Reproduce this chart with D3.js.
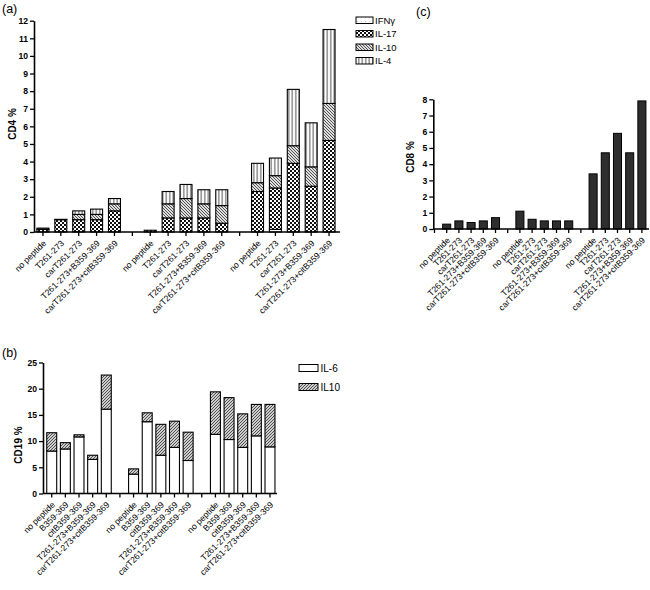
<!DOCTYPE html>
<html><head><meta charset="utf-8">
<script src="https://cdn.jsdelivr.net/npm/d3@7"></script>
<style>
body{margin:0;background:#fff;}
text{font-family:"Liberation Sans",Arial,Helvetica,sans-serif;}
</style></head>
<body>
<svg id="chart" width="650" height="590"></svg>
<script>
// ---------- DATA ----------
const catsA = ["no peptide","T261-273","carT261-273","T261-273+B359-369","carT261-273+citB359-369"];
const catsB = ["no peptide","B359-369","citB359-369","T261-273+B359-369","carT261-273+citB359-369"];
const catsC = catsA;

// panel (a) CD4 %, stacked bottom->top: IFNγ, IL-17, IL-10, IL-4
const aIFNg = [0,0,0,0,0, 0,0,0,0,0, 0,0.15,0,0,0];
const aIL17 = [0.15,0.7,0.7,0.7,1.2, 0.1,0.8,0.8,0.8,0.5, 2.3,2.35,3.9,2.6,5.2];
const aIL10 = [0.07,0.02,0.3,0.3,0.4, 0,0.8,1.1,0.8,1.0, 0.5,0.7,1.0,1.1,2.1];
const aIL4  = [0,0,0.2,0.3,0.3, 0,0.7,0.8,0.8,0.9, 1.1,1.0,3.2,2.5,4.2];
const aSeries = ["IFNγ","IL-17","IL-10","IL-4"];
const aTicks = [0,1,2,3,4,5,6,7,8,9,10,11,12];

// panel (b) CD19 %, stacked bottom->top: IL-6, IL10
const bIL6  = [8.1,8.5,10.8,6.5,16.1, 3.7,13.7,7.3,8.8,6.3, 11.3,10.3,8.8,11.0,8.9];
const bIL10 = [3.5,1.2,0.4,0.8,6.5, 1.0,1.7,5.9,5.0,5.4, 8.1,8.0,6.4,6.0,8.1];
const bSeries = ["IL-6","IL10"];
const bTicks = [0,5,10,15,20,25];

// panel (c) CD8 %
const cCD8 = [0.3,0.5,0.4,0.5,0.7, 1.1,0.6,0.5,0.5,0.5, 3.4,4.7,5.9,4.7,7.9];
const cTicks = [0,1,2,3,4,5,6,7,8];

// ---------- HELPERS ----------
const svg = d3.select("#chart");
const defs = svg.append("defs");

function pat(id, w, h, build){
  const p = defs.append("pattern").attr("id",id).attr("patternUnits","userSpaceOnUse")
    .attr("width",w).attr("height",h);
  build(p);
}
pat("pIFN",4,4,p=>{p.append("rect").attr("width",4).attr("height",4).attr("fill","#fff");
  p.append("rect").attr("x",1).attr("y",1).attr("width",0.8).attr("height",0.8).attr("fill","#aaa");});
pat("pIL17",4,4,p=>{p.append("rect").attr("width",4).attr("height",4).attr("fill","#fff");
  p.append("rect").attr("width",2).attr("height",2).attr("fill","#111");
  p.append("rect").attr("x",2).attr("y",2).attr("width",2).attr("height",2).attr("fill","#111");});
pat("pIL10a",3,3,p=>{p.append("rect").attr("width",3).attr("height",3).attr("fill","#ddd");
  p.append("path").attr("d","M0,0L3,3M-1,2L1,4M2,-1L4,1").attr("stroke","#444").attr("stroke-width",0.9);});
pat("pIL4",3.5,4,p=>{p.append("rect").attr("width",3.5).attr("height",4).attr("fill","#fff");
  p.append("path").attr("d","M1.75,0V4").attr("stroke","#111").attr("stroke-width",0.8);});
pat("pIL10b",3,3,p=>{p.append("rect").attr("width",3).attr("height",3).attr("fill","#ccc");
  p.append("path").attr("d","M0,3L3,0M-1,1L1,-1M2,4L4,2").attr("stroke","#444").attr("stroke-width",0.9);});

const aFills = ["url(#pIFN)","url(#pIL17)","url(#pIL10a)","url(#pIL4)"];
const bFills = ["#fff","url(#pIL10b)"];

function slots(groups, leadingGap){
  const s = [];
  if (leadingGap) s.push({key:"gap-lead",label:"",gi:-1});
  groups.forEach((cats,g)=>{
    if (g>0) s.push({key:"gap"+g,label:"",gi:-1});
    cats.forEach((c,i)=>s.push({key:"g"+g+"-"+i,label:c,gi:g*5+i}));
  });
  return s;
}

function drawAxes(g, x, y, ticks, yAxisX, xEnd, slotList){
  const ya = g.append("g").attr("transform",`translate(${yAxisX},0)`)
    .call(d3.axisLeft(y).tickValues(ticks).tickSize(4).tickSizeOuter(0).tickPadding(2));
  ya.select(".domain").attr("stroke","#000").attr("stroke-width",1.6);
  ya.selectAll(".tick line").attr("stroke","#000").attr("stroke-width",1.3);
  ya.selectAll("text").attr("font-size",8.6).attr("font-weight","bold").attr("fill","#000")
    .attr("font-family","'Liberation Sans',Arial,sans-serif");
  const y0 = y(0);
  const xa = g.append("g").attr("transform",`translate(0,${y0})`)
    .call(d3.axisBottom(x).tickSize(4).tickSizeOuter(0).tickFormat(k=>slotList.find(s=>s.key===k).label));
  xa.select(".domain").remove();
  g.append("line").attr("x1",yAxisX).attr("x2",xEnd).attr("y1",y0).attr("y2",y0)
    .attr("stroke","#000").attr("stroke-width",1.6);
  xa.selectAll(".tick line").attr("stroke","#000").attr("stroke-width",1.3);
  xa.selectAll("text").attr("font-size",8.6).attr("fill","#000")
    .attr("font-family","'Liberation Sans',Arial,sans-serif")
    .attr("text-anchor","end").attr("x",0).attr("y",0).attr("dy","0.3em")
    .attr("transform","translate(2,10) rotate(-45)");
}

// ---------- PANEL (a) ----------
{
  const g = svg.append("g");
  const sl = slots([catsA,catsA,catsA],false);
  const x = d3.scaleBand().domain(sl.map(s=>s.key)).range([34,338]).paddingInner(0.33).paddingOuter(0.165);
  const y = d3.scaleLinear().domain([0,12]).range([232,20.7]);
  const rows = sl.filter(s=>s.gi>=0).map(s=>({key:s.key,"IFNγ":aIFNg[s.gi],"IL-17":aIL17[s.gi],"IL-10":aIL10[s.gi],"IL-4":aIL4[s.gi]}));
  const stack = d3.stack().keys(aSeries)(rows);
  stack.forEach((layer,li)=>{
    g.append("g").selectAll("rect").data(layer.filter(d=>d[1]-d[0]>0)).join("rect")
      .attr("x",d=>x(d.data.key)).attr("width",x.bandwidth())
      .attr("y",d=>y(d[1])).attr("height",d=>y(d[0])-y(d[1]))
      .attr("fill",aFills[li]).attr("stroke","#000").attr("stroke-width",1.1);
  });
  drawAxes(g,x,y,aTicks,34,340,sl);
  g.append("text").attr("x",2).attr("y",13).attr("font-size",12.5).text("(a)");
  g.append("text").attr("transform",`translate(15.5,124) rotate(-90)`)
    .attr("text-anchor","middle").attr("font-size",10).attr("font-weight","bold").text("CD4 %");
  const leg = g.append("g");
  aSeries.forEach((s,i)=>{
    const yy = 17 + i*13.5;
    leg.append("rect").attr("x",356).attr("y",yy).attr("width",17).attr("height",6.5)
      .attr("fill",aFills[i]).attr("stroke","#000").attr("stroke-width",1);
    leg.append("text").attr("x",375).attr("y",yy+6.5).attr("font-size",9.5).text(s);
  });
}

// ---------- PANEL (b) ----------
{
  const g = svg.append("g");
  const sl = slots([catsB,catsB,catsB],false);
  const x = d3.scaleBand().domain(sl.map(s=>s.key)).range([44.9,276.8]).paddingInner(0.27).paddingOuter(0.135);
  const y = d3.scaleLinear().domain([0,25]).range([493.5,362.5]);
  const rows = sl.filter(s=>s.gi>=0).map(s=>({key:s.key,"IL-6":bIL6[s.gi],"IL10":bIL10[s.gi]}));
  const stack = d3.stack().keys(bSeries)(rows);
  stack.forEach((layer,li)=>{
    g.append("g").selectAll("rect").data(layer).join("rect")
      .attr("x",d=>x(d.data.key)).attr("width",x.bandwidth())
      .attr("y",d=>y(d[1])).attr("height",d=>y(d[0])-y(d[1]))
      .attr("fill",bFills[li]).attr("stroke","#000").attr("stroke-width",1.1);
  });
  drawAxes(g,x,y,bTicks,43,277,sl);
  g.append("text").attr("x",2).attr("y",357).attr("font-size",12.5).text("(b)");
  g.append("text").attr("transform",`translate(21.5,445) rotate(-90)`)
    .attr("text-anchor","middle").attr("font-size",10).attr("font-weight","bold").text("CD19 %");
  bSeries.forEach((s,i)=>{
    const yy = 364.5 + i*19;
    g.append("rect").attr("x",299).attr("y",yy).attr("width",19).attr("height",7)
      .attr("fill",bFills[i]).attr("stroke","#000").attr("stroke-width",1);
    g.append("text").attr("x",320.5).attr("y",yy+7).attr("font-size",10).text(s);
  });
}

// ---------- PANEL (c) ----------
{
  const g = svg.append("g");
  const sl = slots([catsC,catsC,catsC],true);
  const x = d3.scaleBand().domain(sl.map(s=>s.key)).range([428.4,648]).paddingInner(0.34).paddingOuter(0.17);
  const y = d3.scaleLinear().domain([0,8]).range([229,99.3]);
  g.append("g").selectAll("rect").data(sl.filter(s=>s.gi>=0)).join("rect")
    .attr("x",d=>x(d.key)).attr("width",x.bandwidth())
    .attr("y",d=>y(cCD8[d.gi])).attr("height",d=>y(0)-y(cCD8[d.gi]))
    .attr("fill","#2e2e2e").attr("stroke","#000").attr("stroke-width",1);
  drawAxes(g,x,y,cTicks,433.3,649,sl);
  g.append("text").attr("x",416).attr("y",16).attr("font-size",12.5).text("(c)");
  g.append("text").attr("transform",`translate(414,157) rotate(-90)`)
    .attr("text-anchor","middle").attr("font-size",10).attr("font-weight","bold").text("CD8 %");
}
</script>
</body></html>
